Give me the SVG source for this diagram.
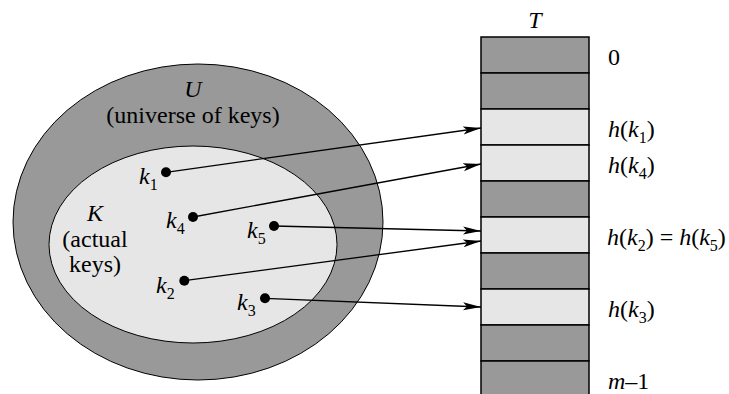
<svg xmlns="http://www.w3.org/2000/svg" width="729" height="394" viewBox="0 0 729 394">
<defs>
<style>
text{font-family:"Liberation Serif","Times New Roman",serif;font-size:24px;fill:#000}
.i{font-style:italic}
.dark{fill:#999999;stroke:#000;stroke-width:1.5}
.light{fill:#e6e6e6;stroke:#000;stroke-width:1.5}
.conn line{stroke:#000;stroke-width:1.3;fill:none;marker-end:url(#ah)}
.dot{fill:#000}
</style>
<marker id="ah" viewBox="0 0 18 10" refX="18" refY="5" markerWidth="18" markerHeight="10" markerUnits="userSpaceOnUse" orient="auto">
<path d="M0,1 L18,5 L0,9 L4,5 Z" fill="#000"/>
</marker>
</defs>
<g id="universe">
<ellipse cx="198" cy="222" rx="185" ry="158" fill="#999999" stroke="#000" stroke-width="1"/>
<text class="i" x="193" y="97" text-anchor="middle">U</text>
<text x="193" y="123" text-anchor="middle">(universe of keys)</text>
</g>
<g id="actual-keys">
<ellipse cx="193" cy="244.5" rx="144" ry="98.5" fill="#e6e6e6" stroke="#000" stroke-width="1"/>
<text class="i" x="95" y="221" text-anchor="middle">K</text>
<text x="95" y="247" text-anchor="middle">(actual</text>
<text x="95" y="272" text-anchor="middle">keys)</text>
</g>
<g id="k1"><circle class="dot" cx="166" cy="172.3" r="5"/><text x="139" y="184"><tspan class="i">k</tspan><tspan font-size="16" dy="6">1</tspan></text></g>
<g id="k4"><circle class="dot" cx="193" cy="217" r="5"/><text x="166" y="228"><tspan class="i">k</tspan><tspan font-size="16" dy="6">4</tspan></text></g>
<g id="k5"><circle class="dot" cx="274" cy="226" r="5"/><text x="247" y="238"><tspan class="i">k</tspan><tspan font-size="16" dy="6">5</tspan></text></g>
<g id="k2"><circle class="dot" cx="184.3" cy="280.7" r="5"/><text x="156" y="293"><tspan class="i">k</tspan><tspan font-size="16" dy="6">2</tspan></text></g>
<g id="k3"><circle class="dot" cx="265" cy="298.3" r="5"/><text x="237" y="310"><tspan class="i">k</tspan><tspan font-size="16" dy="6">3</tspan></text></g>
<g id="table">
<text class="i" x="535" y="28" text-anchor="middle" font-size="22">T</text>
<rect class="dark" x="481" y="37" width="108" height="36"/>
<rect class="dark" x="481" y="73" width="108" height="36"/>
<rect class="light" x="481" y="109" width="108" height="36"/>
<rect class="light" x="481" y="145" width="108" height="36"/>
<rect class="dark" x="481" y="181" width="108" height="36"/>
<rect class="light" x="481" y="217" width="108" height="36"/>
<rect class="dark" x="481" y="253" width="108" height="36"/>
<rect class="light" x="481" y="289" width="108" height="36"/>
<rect class="dark" x="481" y="325" width="108" height="36"/>
<rect class="dark" x="481" y="361" width="108" height="36"/>
<text x="608" y="64.5">0</text>
<text x="608" y="137"><tspan class="i">h</tspan>(<tspan class="i">k</tspan><tspan font-size="16" dy="6">1</tspan><tspan dy="-6">)</tspan></text>
<text x="608" y="173"><tspan class="i">h</tspan>(<tspan class="i">k</tspan><tspan font-size="16" dy="6">4</tspan><tspan dy="-6">)</tspan></text>
<text x="607" y="245"><tspan class="i">h</tspan>(<tspan class="i">k</tspan><tspan font-size="16" dy="6">2</tspan><tspan dy="-6">) = </tspan><tspan class="i">h</tspan>(<tspan class="i">k</tspan><tspan font-size="16" dy="6">5</tspan><tspan dy="-6">)</tspan></text>
<text x="608" y="317"><tspan class="i">h</tspan>(<tspan class="i">k</tspan><tspan font-size="16" dy="6">3</tspan><tspan dy="-6">)</tspan></text>
<text x="608" y="389"><tspan class="i">m</tspan>–1</text>
</g>
<g id="connectors" class="conn">
<line x1="166" y1="172.3" x2="481" y2="128"/>
<line x1="193" y1="217" x2="481" y2="164"/>
<line x1="274" y1="226" x2="481" y2="231"/>
<line x1="184.3" y1="280.7" x2="481" y2="241"/>
<line x1="265" y1="298.3" x2="481" y2="307"/>
</g>
</svg>
